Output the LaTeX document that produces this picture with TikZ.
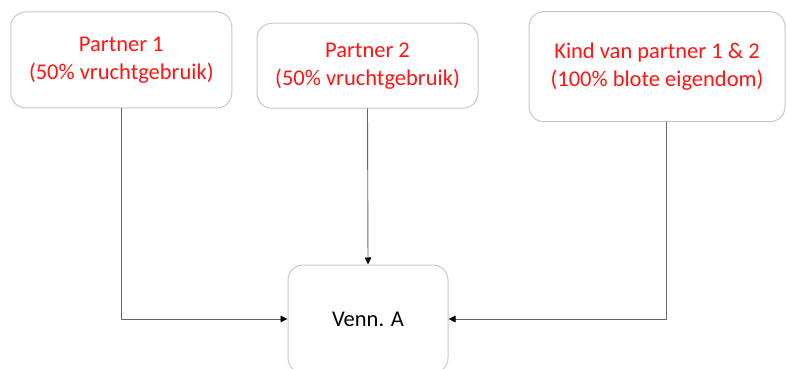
\documentclass[tikz,border=0pt]{standalone}
\usepackage{fontspec}
\setmainfont{Carlito}
\usetikzlibrary{arrows,arrows.meta}
\definecolor{boxline}{RGB}{200,200,200}
\definecolor{redtext}{RGB}{255,20,20}
\definecolor{linkline}{RGB}{100,100,100}

\begin{document}
\begin{tikzpicture}[line cap=round,line join=round,x=1pt,y=1pt,
  box/.style={draw=boxline,line width=1pt,rounded corners=15pt,fill=white,align=center,font=\fontsize{22.5}{28}\selectfont},
  link/.style={-{Triangle[length=7pt,width=6.5pt,color=black]},draw=linkline,line width=0.9pt}]
\useasboundingbox (0,0) rectangle (787,368);
\node[box,text=redtext,minimum width=221pt,minimum height=96pt] (partnera) at (121.3,308.1) {Partner 1\\(50\% vruchtgebruik)};
\node[box,text=redtext,minimum width=221pt,minimum height=85pt] (partnerb) at (367.5,302.3) {Partner 2\\(50\% vruchtgebruik)};
\node[box,text=redtext,minimum width=256pt,minimum height=110pt] (kind) at (657,301.3) {Kind van partner 1 \& 2\\(100\% blote eigendom)};
\node[box,text=black,minimum width=160pt,minimum height=108pt] (venn) at (368,49) {Venn. A};
\draw[link] (partnera.south) |- (venn.west);
\draw[link] (partnerb.south) -- (venn.north);
\draw[link] ([xshift=9pt]kind.south) |- (venn.east);
\end{tikzpicture}
\end{document}
